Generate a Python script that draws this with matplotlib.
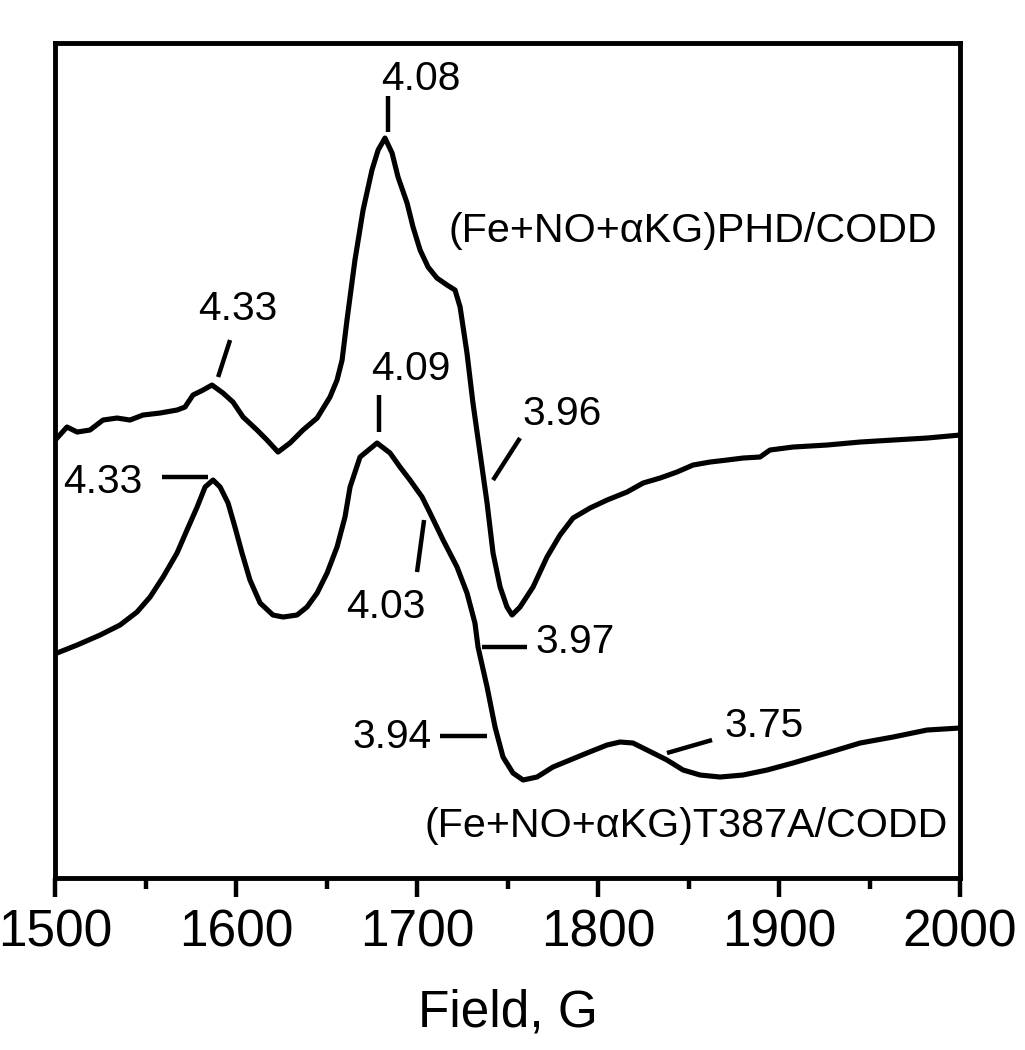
import numpy as np
import matplotlib
matplotlib.use('Agg')
import matplotlib.pyplot as plt

plt.rcParams['font.family'] = ['Liberation Sans', 'DejaVu Sans']

# upper trace: (Fe+NO+aKG)PHD/CODD
field_phd = [1501.1, 1506.6, 1512.2, 1519.3, 1526.5, 1534.3, 1541.4, 1548.6, 1558.0, 1567.4,
             1571.8, 1576.2, 1581.8, 1586.7, 1592.8, 1598.3, 1603.9, 1611.6, 1617.1, 1623.2,
             1629.8, 1637.0, 1644.8, 1651.9, 1655.8, 1658.6, 1661.3, 1665.7, 1670.2, 1675.1,
             1678.5, 1682.3, 1686.2, 1689.5, 1694.5, 1697.8, 1701.7, 1706.1, 1711.0, 1716.6,
             1721.0, 1723.8, 1727.6, 1730.9, 1734.8, 1738.7, 1742.0, 1745.9, 1749.7, 1752.5,
             1756.9, 1764.1, 1771.8, 1779.0, 1786.2, 1795.6, 1805.0, 1816.0, 1824.9, 1834.3,
             1843.6, 1852.5, 1861.9, 1871.3, 1880.1, 1889.5, 1895.0, 1907.7, 1926.5, 1944.8,
             1963.0, 1981.8, 2000.0]
sig_phd = [440, 451, 446, 448, 458, 460, 458, 463, 465, 468,
           471, 483, 488, 493, 485, 476, 461, 448, 438, 426,
           435, 448, 460, 481, 498, 518, 558, 618, 668, 708,
           728, 740, 725, 701, 675, 651, 628, 611, 600, 593,
           588, 571, 525, 475, 425, 375, 325, 291, 271, 263,
           271, 291, 321, 343, 360, 370, 378, 386, 395, 400,
           406, 413, 416, 418, 420, 421, 428, 431, 433, 436,
           438, 440, 443]

# lower trace: (Fe+NO+aKG)T387A/CODD
field_t387a = [1501.1, 1512.2, 1524.9, 1535.9, 1545.3, 1552.5, 1559.7, 1567.4, 1572.9, 1578.5,
               1582.9, 1587.3, 1591.2, 1595.6, 1599.4, 1603.3, 1607.7, 1613.3, 1620.4, 1626.0,
               1633.7, 1639.2, 1644.8, 1650.3, 1655.8, 1660.2, 1663.0, 1668.5, 1677.9, 1685.1,
               1690.6, 1696.1, 1702.8, 1707.2, 1714.4, 1722.1, 1727.6, 1732.0, 1733.7, 1738.7,
               1743.1, 1747.5, 1753.0, 1758.6, 1766.3, 1775.1, 1784.5, 1793.9, 1805.0, 1812.2,
               1819.3, 1830.4, 1838.1, 1847.0, 1856.4, 1867.4, 1880.1, 1893.4, 1907.7, 1926.5,
               1944.8, 1963.0, 1981.8, 2000.0]
sig_t387a = [225, 233, 243, 253, 266, 281, 301, 325, 348, 371,
             391, 398, 391, 375, 351, 325, 298, 275, 263, 261,
             263, 271, 285, 305, 331, 361, 391, 421, 435, 425,
             411, 398, 381, 365, 338, 311, 285, 255, 231, 191,
             151, 121, 105, 98, 101, 111, 118, 125, 133, 136,
             135, 125, 118, 108, 103, 101, 103, 108, 115, 125,
             135, 141, 148, 150]

# g-value labels: text (x, baseline y) and marker line ends
g_labels = ['4.08', '4.33', '4.09', '3.96', '4.33', '4.03', '3.97', '3.94', '3.75']
g_text_x = [1702.2, 1601.1, 1696.7, 1780.1, 1526.5, 1682.9, 1787.3, 1686.2, 1891.7]
g_text_y = [788, 558, 498, 453, 385, 260, 225, 130, 141]
g_line_x = [(1684.0, 1684.0), (1596.7, 1590.1), (1679.0, 1679.0), (1756.9, 1742.0),
            (1559.1, 1584.5), (1703.9, 1700.0), (1735.9, 1760.8), (1712.7, 1738.7),
            (1838.1, 1863.0)]
g_line_y = [(782, 746), (538, 501), (483, 446), (440, 398),
            (401, 401), (358, 306), (231, 231), (142, 142),
            (125, 138)]

fig = plt.figure(figsize=(10.25, 10.5), dpi=100)
ax = fig.add_axes([0.0537, 0.1638, 0.8829, 0.7952])

ax.plot(field_phd, sig_phd, color='black', lw=3.7, solid_joinstyle='round')
ax.plot(field_t387a, sig_t387a, color='black', lw=3.7, solid_joinstyle='round')

for i in range(len(g_labels)):
    ax.plot(g_line_x[i], g_line_y[i], color='black', lw=3.2, solid_capstyle='butt')
    ax.text(g_text_x[i], g_text_y[i], g_labels[i], ha='center', va='baseline', fontsize=29.3)

ax.text(1987.3, 636, '(Fe+NO+\u03b1KG)PHD/CODD', ha='right', va='baseline', fontsize=29.7)
ax.text(1993.4, 41, '(Fe+NO+\u03b1KG)T387A/CODD', ha='right', va='baseline', fontsize=29.7)

ax.set_xlim(1500, 2000)
ax.set_ylim(0, 835)
ax.set_xticks([1500, 1600, 1700, 1800, 1900, 2000])
ax.set_xticks([1550, 1650, 1750, 1850, 1950], minor=True)
ax.set_yticks([])
ax.tick_params(axis='x', which='major', direction='out', length=14, width=3.2, labelsize=37, pad=8)
ax.tick_params(axis='x', which='minor', direction='out', length=8, width=3.2)
for s in ax.spines.values():
    s.set_linewidth(3.5)
ax.set_xlabel('Field, G', fontsize=37, labelpad=22)

fig.savefig('out.png', dpi=100)
